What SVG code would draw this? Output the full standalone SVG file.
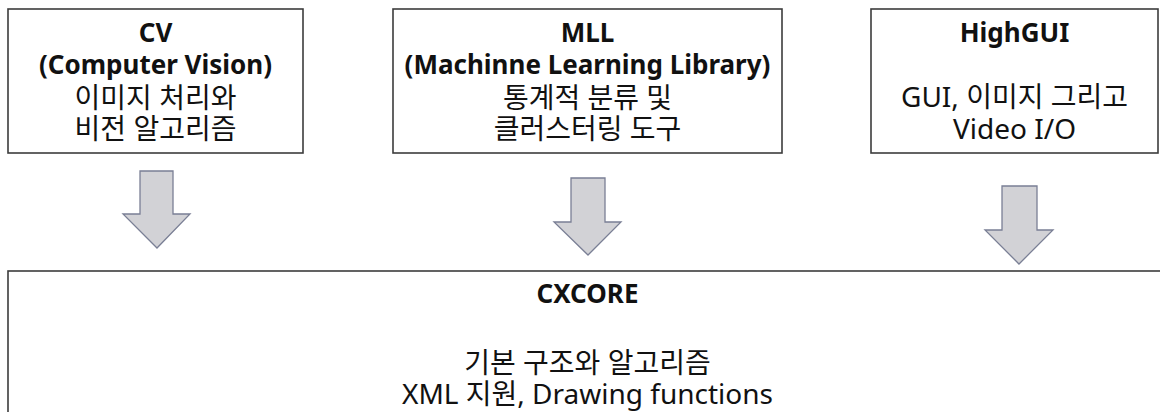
<svg xmlns="http://www.w3.org/2000/svg" width="1160" height="412" viewBox="0 0 1160 412">
<style>
.box{fill:#fff;stroke:#3c3c3c;stroke-width:1.6}
.arrow{fill:#d2d2d6;stroke:#7a7f95;stroke-width:1.3;stroke-linejoin:miter}
text{font-family:"Noto Sans","Noto Sans CJK KR",sans-serif;font-size:28px;fill:#111;text-anchor:middle}
.b{font-weight:bold;font-size:26px}
</style>
<rect width="1160" height="412" fill="#fff"/>
<g id="cv">
<rect class="box" x="8" y="9" width="295" height="144"/>
<text class="b" x="155.5" y="42">CV</text>
<text class="b" x="155.5" y="74">(Computer Vision)</text>
<text x="155.5" y="108">이미지 처리와</text>
<text x="155.5" y="139">비전 알고리즘</text>
</g>
<g id="mll">
<rect class="box" x="393" y="9" width="389" height="144"/>
<text class="b" x="587.5" y="42">MLL</text>
<text class="b" x="587.5" y="74">(Machinne Learning Library)</text>
<text x="587.5" y="108">통계적 분류 및</text>
<text x="587.5" y="139">클러스터링 도구</text>
</g>
<g id="highgui">
<rect class="box" x="871" y="9" width="287" height="144"/>
<text class="b" x="1014.5" y="42">HighGUI</text>
<text x="1014.5" y="107">GUI, 이미지 그리고</text>
<text x="1014.5" y="139">Video I/O</text>
</g>
<g id="cxcore">
<rect class="box" x="8" y="271" width="1170" height="160"/>
<text class="b" x="587.5" y="303">CXCORE</text>
<text x="587.5" y="373">기본 구조와 알고리즘</text>
<text x="587.5" y="404">XML 지원, Drawing functions</text>
</g>
<g id="connectors">
<polygon class="arrow" points="140,171 173,171 173,214 190,214 157,248 123,214 140,214"/>
<polygon class="arrow" points="571,178 605,178 605,222 621,222 588,255 554,222 571,222"/>
<polygon class="arrow" points="1002,186 1037,186 1037,230 1053,230 1019,264 985,230 1002,230"/>
</g>
</svg>
